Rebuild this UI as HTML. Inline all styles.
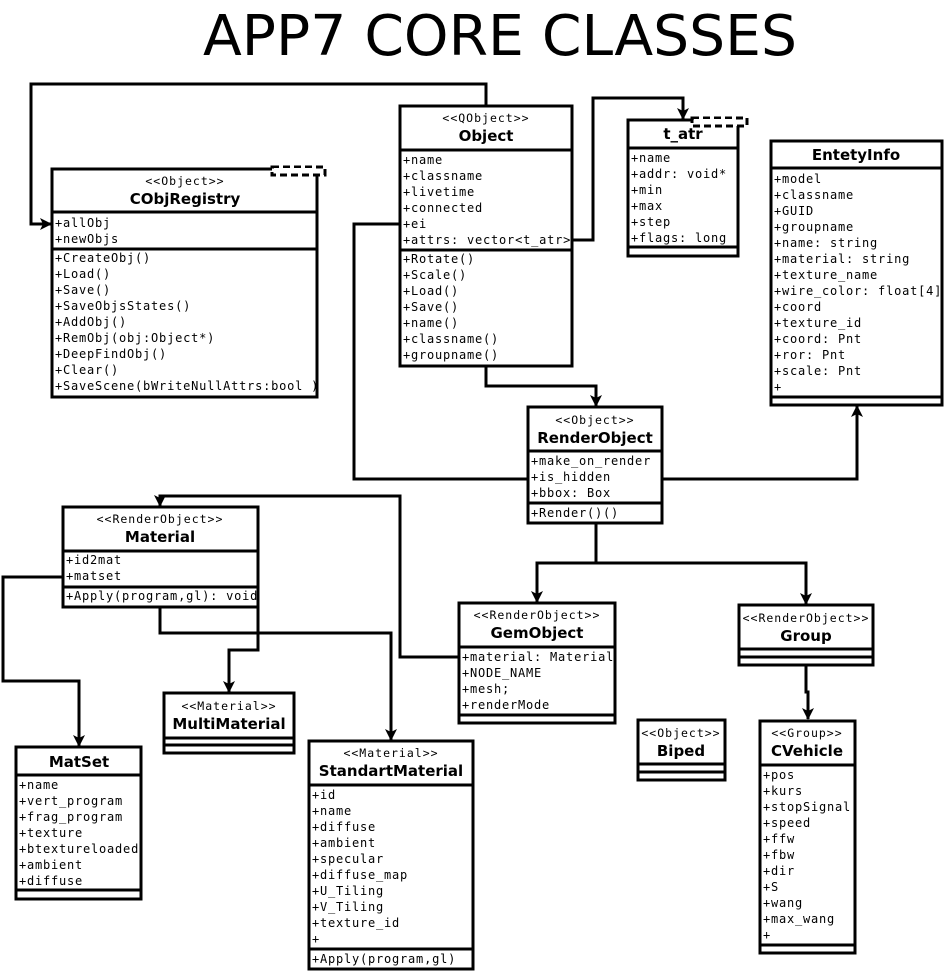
<!DOCTYPE html>
<html><head><meta charset="utf-8"><style>
html,body{margin:0;padding:0;background:#fff}
svg{display:block}
.m{font-family:"DejaVu Sans Mono","Liberation Mono",monospace;font-size:12px;letter-spacing:0.78px;fill:#000}
.s{font-family:"DejaVu Sans Mono","Liberation Mono",monospace;font-size:11.5px;letter-spacing:1px;fill:#000}
.n{font-family:"DejaVu Sans","Liberation Sans",sans-serif;font-size:15px;font-weight:bold;fill:#000}
</style></head><body>
<svg width="945" height="971" viewBox="0 0 945 971" xmlns="http://www.w3.org/2000/svg">
<defs>
<marker id="a" viewBox="0 0 12 12" refX="11" refY="6" markerWidth="12" markerHeight="12" markerUnits="userSpaceOnUse" orient="auto">
<path d="M0,0 L12,6 L0,12 L3,6 Z" fill="#000"/></marker>
</defs>
<text x="500" y="55" text-anchor="middle" font-family="DejaVu Sans, Liberation Sans, sans-serif" font-size="56" textLength="594" lengthAdjust="spacingAndGlyphs">APP7 CORE CLASSES</text>
<g fill="none" stroke="#000" stroke-width="3">
<polyline points="486,106 486,84 31,84 31,224 51,224" marker-end="url(#a)"/>
<polyline points="572,240 593,240 593,98 683,98 683,119" marker-end="url(#a)"/>
<polyline points="486,366 486,386 596,386 596,406" marker-end="url(#a)"/>
<polyline points="400,224 354,224 354,479 528,479"/>
<polyline points="662,479 857,479 857,406" marker-end="url(#a)"/>
<polyline points="596,523 596,563 537,563 537,602" marker-end="url(#a)"/>
<polyline points="596,563 806,563 806,604" marker-end="url(#a)"/>
<polyline points="459,657 400,657 400,496 160,496 160,506" marker-end="url(#a)"/>
<polyline points="63,577 3,577 3,681 79,681 79,746" marker-end="url(#a)"/>
<polyline points="160,607 160,633 391,633 391,740" marker-end="url(#a)"/>
<polyline points="258,607 258,650 229,650 229,692" marker-end="url(#a)"/>
<polyline points="806,665 806,692 808,692 808,719" marker-end="url(#a)"/>
</g>
<g fill="#fff" stroke="#000" stroke-width="3">
<rect x="52" y="169" width="265" height="228"/>
<rect x="400" y="106" width="172" height="260"/>
<rect x="628" y="120" width="110" height="136"/>
<rect x="771" y="141" width="171" height="264"/>
<rect x="528" y="407" width="134" height="116"/>
<rect x="63" y="507" width="195" height="100"/>
<rect x="164" y="693" width="130" height="60"/>
<rect x="16" y="747" width="125" height="152"/>
<rect x="309" y="741" width="164" height="228"/>
<rect x="459" y="603" width="156" height="120"/>
<rect x="739" y="605" width="134" height="60"/>
<rect x="638" y="720" width="87" height="60"/>
<rect x="760" y="721" width="95" height="232"/>
</g>
<g fill="none" stroke="#000" stroke-width="3">
<path d="M52,212H317M52,249H317"/>
<path d="M400,150H572M400,250H572"/>
<path d="M628,148H738M628,247H738"/>
<path d="M771,168H942M771,397H942"/>
<path d="M528,451H662M528,503H662"/>
<path d="M63,551H258M63,587H258"/>
<path d="M164,738H294M164,745H294"/>
<path d="M16,775H141M16,890H141"/>
<path d="M309,785H473M309,949H473"/>
<path d="M459,647H615M459,715H615"/>
<path d="M739,649H873M739,657H873"/>
<path d="M638,764H725M638,772H725"/>
<path d="M760,765H855M760,945H855"/>
</g>
<g fill="#fff" stroke="#000" stroke-width="3" stroke-dasharray="7,4">
<rect x="272" y="167" width="53" height="8"/>
<rect x="692" y="118" width="55" height="8"/>
</g>
<rect x="274" y="168" width="42" height="5" fill="#fff" stroke="none"/>
<rect x="694" y="119" width="42" height="5" fill="#fff" stroke="none"/>
<g text-anchor="middle">
<text class="s" x="185" y="185">&lt;&lt;Object&gt;&gt;</text><text class="n" x="185" y="204">CObjRegistry</text>
<text class="s" x="486" y="122">&lt;&lt;QObject&gt;&gt;</text><text class="n" x="486" y="141">Object</text>
<text class="n" x="683" y="139">t_atr</text>
<text class="n" x="856" y="160">EntetyInfo</text>
<text class="s" x="595" y="424">&lt;&lt;Object&gt;&gt;</text><text class="n" x="595" y="443">RenderObject</text>
<text class="s" x="160" y="523">&lt;&lt;RenderObject&gt;&gt;</text><text class="n" x="160" y="542">Material</text>
<text class="s" x="229" y="710">&lt;&lt;Material&gt;&gt;</text><text class="n" x="229" y="729">MultiMaterial</text>
<text class="n" x="79" y="767">MatSet</text>
<text class="s" x="391" y="757">&lt;&lt;Material&gt;&gt;</text><text class="n" x="391" y="776">StandartMaterial</text>
<text class="s" x="537" y="619">&lt;&lt;RenderObject&gt;&gt;</text><text class="n" x="537" y="638">GemObject</text>
<text class="s" x="806" y="622">&lt;&lt;RenderObject&gt;&gt;</text><text class="n" x="806" y="641">Group</text>
<text class="s" x="681" y="737">&lt;&lt;Object&gt;&gt;</text><text class="n" x="681" y="756">Biped</text>
<text class="s" x="807" y="737">&lt;&lt;Group&gt;&gt;</text><text class="n" x="807" y="756">CVehicle</text>
</g>
<g>
<text class="m" x="55" y="227">+allObj</text><text class="m" x="55" y="243">+newObjs</text>
<text class="m" x="55" y="262">+CreateObj()</text><text class="m" x="55" y="278">+Load()</text><text class="m" x="55" y="294">+Save()</text><text class="m" x="55" y="310">+SaveObjsStates()</text><text class="m" x="55" y="326">+AddObj()</text><text class="m" x="55" y="342">+RemObj(obj:Object*)</text><text class="m" x="55" y="358">+DeepFindObj()</text><text class="m" x="55" y="374">+Clear()</text><text class="m" x="55" y="390">+SaveScene(bWriteNullAttrs:bool )</text>
<text class="m" x="403" y="164">+name</text><text class="m" x="403" y="180">+classname</text><text class="m" x="403" y="196">+livetime</text><text class="m" x="403" y="212">+connected</text><text class="m" x="403" y="228">+ei</text><text class="m" x="403" y="244">+attrs: vector&lt;t_atr&gt;</text>
<text class="m" x="403" y="263">+Rotate()</text><text class="m" x="403" y="279">+Scale()</text><text class="m" x="403" y="295">+Load()</text><text class="m" x="403" y="311">+Save()</text><text class="m" x="403" y="327">+name()</text><text class="m" x="403" y="343">+classname()</text><text class="m" x="403" y="359">+groupname()</text>
<text class="m" x="631" y="162">+name</text><text class="m" x="631" y="178">+addr: void*</text><text class="m" x="631" y="194">+min</text><text class="m" x="631" y="210">+max</text><text class="m" x="631" y="226">+step</text><text class="m" x="631" y="242">+flags: long</text>
<text class="m" x="774" y="183">+model</text><text class="m" x="774" y="199">+classname</text><text class="m" x="774" y="215">+GUID</text><text class="m" x="774" y="231">+groupname</text><text class="m" x="774" y="247">+name: string</text><text class="m" x="774" y="263">+material: string</text><text class="m" x="774" y="279">+texture_name</text><text class="m" x="774" y="295">+wire_color: float[4]</text><text class="m" x="774" y="311">+coord</text><text class="m" x="774" y="327">+texture_id</text><text class="m" x="774" y="343">+coord: Pnt</text><text class="m" x="774" y="359">+ror: Pnt</text><text class="m" x="774" y="375">+scale: Pnt</text><text class="m" x="774" y="391">+</text>
<text class="m" x="531" y="465">+make_on_render</text><text class="m" x="531" y="481">+is_hidden</text><text class="m" x="531" y="497">+bbox: Box</text><text class="m" x="531" y="517">+Render()()</text>
<text class="m" x="66" y="564">+id2mat</text><text class="m" x="66" y="580">+matset</text><text class="m" x="66" y="600">+Apply(program,gl): void</text>
<text class="m" x="19" y="789">+name</text><text class="m" x="19" y="805">+vert_program</text><text class="m" x="19" y="821">+frag_program</text><text class="m" x="19" y="837">+texture</text><text class="m" x="19" y="853">+btextureloaded</text><text class="m" x="19" y="869">+ambient</text><text class="m" x="19" y="885">+diffuse</text>
<text class="m" x="312" y="799">+id</text><text class="m" x="312" y="815">+name</text><text class="m" x="312" y="831">+diffuse</text><text class="m" x="312" y="847">+ambient</text><text class="m" x="312" y="863">+specular</text><text class="m" x="312" y="879">+diffuse_map</text><text class="m" x="312" y="895">+U_Tiling</text><text class="m" x="312" y="911">+V_Tiling</text><text class="m" x="312" y="927">+texture_id</text><text class="m" x="312" y="943">+</text><text class="m" x="312" y="963">+Apply(program,gl)</text>
<text class="m" x="462" y="661">+material: Material</text><text class="m" x="462" y="677">+NODE_NAME</text><text class="m" x="462" y="693">+mesh;</text><text class="m" x="462" y="709">+renderMode</text>
<text class="m" x="763" y="779">+pos</text><text class="m" x="763" y="795">+kurs</text><text class="m" x="763" y="811">+stopSignal</text><text class="m" x="763" y="827">+speed</text><text class="m" x="763" y="843">+ffw</text><text class="m" x="763" y="859">+fbw</text><text class="m" x="763" y="875">+dir</text><text class="m" x="763" y="891">+S</text><text class="m" x="763" y="907">+wang</text><text class="m" x="763" y="923">+max_wang</text><text class="m" x="763" y="939">+</text>
</g>
</svg>
</body></html>
